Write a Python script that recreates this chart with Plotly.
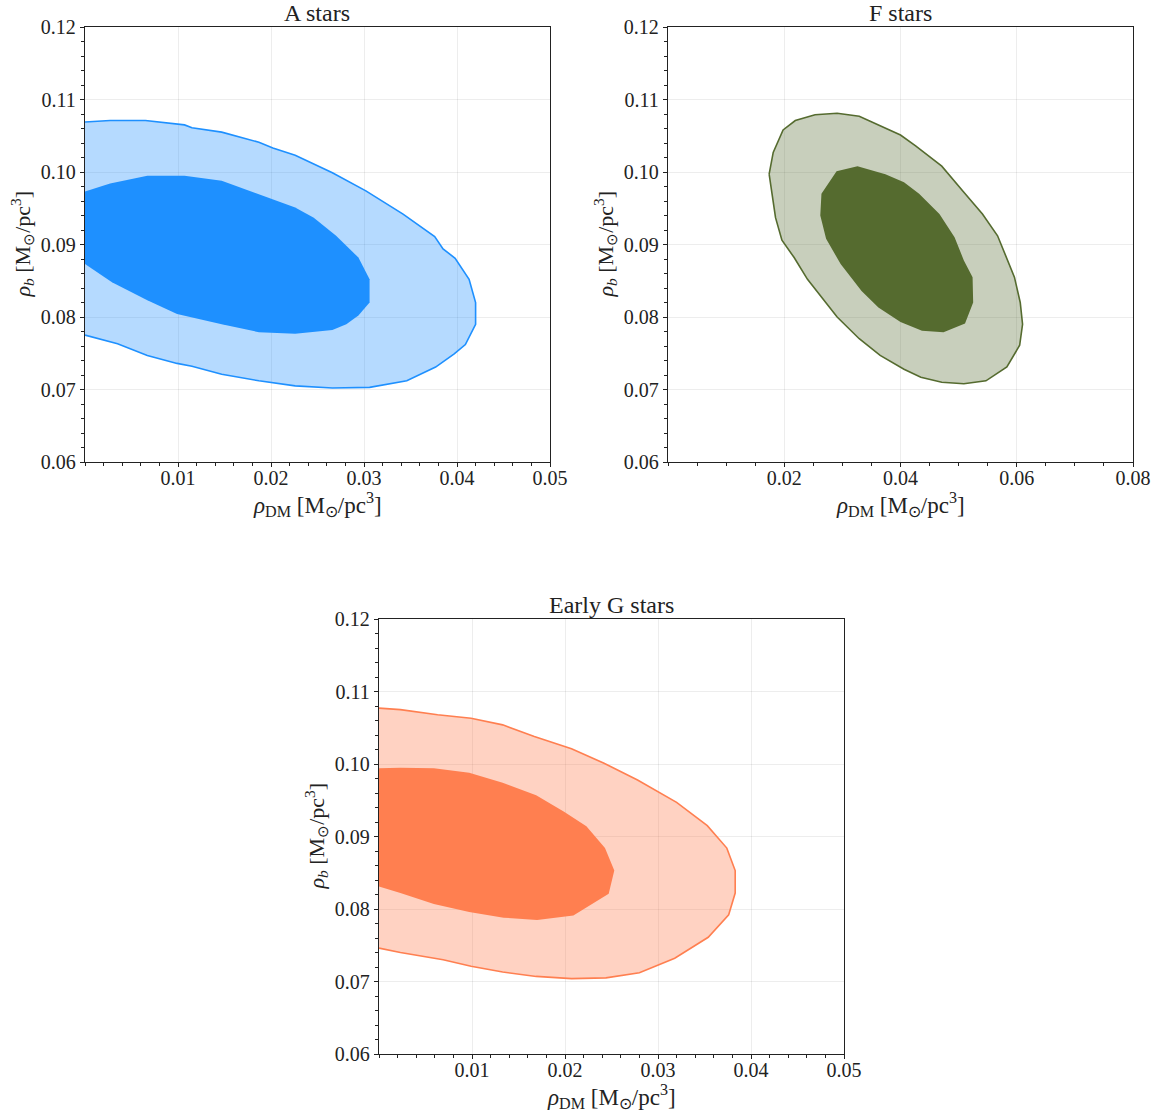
import plotly.graph_objects as go

# ---------------- data ----------------
titles = ["A stars", "F stars", "Early G stars"]

a_outer_x = [0.0, 0.0027, 0.0065, 0.0107, 0.0115, 0.0147, 0.0187, 0.0202, 0.0226, 0.0266, 0.0302, 0.0342,
             0.0376, 0.0385, 0.0398, 0.0413, 0.0420, 0.0420, 0.0409, 0.0397, 0.0377, 0.0346, 0.0306, 0.0266,
             0.0226, 0.0187, 0.0147, 0.0115, 0.0099, 0.0067, 0.0035, 0.0]
a_outer_y = [0.1069, 0.1071, 0.1071, 0.1065, 0.1061, 0.1055, 0.1041, 0.1033, 0.1023, 0.0999, 0.0974, 0.0942,
             0.0911, 0.0894, 0.0881, 0.0852, 0.0820, 0.0790, 0.0762, 0.0749, 0.0731, 0.0712, 0.0703, 0.0702,
             0.0705, 0.0712, 0.0721, 0.0732, 0.0736, 0.0747, 0.0763, 0.0775]
a_inner_x = [0.0, 0.0027, 0.0067, 0.0107, 0.0147, 0.0179, 0.0202, 0.0226, 0.0246, 0.0270, 0.0294, 0.0306,
             0.0306, 0.0294, 0.0281, 0.0266, 0.0226, 0.0187, 0.0147, 0.0099, 0.0067, 0.0029, 0.0]
a_inner_y = [0.0973, 0.0984, 0.0995, 0.0995, 0.0988, 0.0973, 0.0962, 0.0951, 0.0937, 0.0912, 0.0882, 0.0852,
             0.0820, 0.0802, 0.0790, 0.0782, 0.0777, 0.0779, 0.0790, 0.0804, 0.0823, 0.0848, 0.0873]

f_outer_x = [0.0174, 0.0181, 0.0198, 0.0219, 0.0253, 0.0291, 0.0329, 0.0362, 0.0400, 0.0426, 0.0471, 0.0509,
             0.0541, 0.0567, 0.0596, 0.0606, 0.0610, 0.0605, 0.0583, 0.0547, 0.0509, 0.0471, 0.0435, 0.0406,
             0.0365, 0.0329, 0.0291, 0.0240, 0.0217, 0.0196, 0.0185, 0.0174]
f_outer_y = [0.0997, 0.1027, 0.1058, 0.1071, 0.1079, 0.1081, 0.1077, 0.1065, 0.1051, 0.1036, 0.1008, 0.0972,
             0.0942, 0.0912, 0.0855, 0.0820, 0.0790, 0.0761, 0.0731, 0.0712, 0.0708, 0.0710, 0.0717, 0.0728,
             0.0747, 0.0770, 0.0800, 0.0852, 0.0882, 0.0906, 0.0937, 0.0997]
f_inner_x = [0.0290, 0.0326, 0.0374, 0.0406, 0.0432, 0.0467, 0.0493, 0.0509, 0.0524, 0.0525, 0.0511, 0.0474,
             0.0437, 0.0400, 0.0362, 0.0333, 0.0297, 0.0272, 0.0262, 0.0264, 0.0290]
f_inner_y = [0.1001, 0.1008, 0.0997, 0.0986, 0.0970, 0.0942, 0.0910, 0.0878, 0.0855, 0.0820, 0.0791, 0.0779,
             0.0781, 0.0793, 0.0813, 0.0836, 0.0873, 0.0908, 0.0940, 0.0970, 0.1001]

g_outer_x = [0.0, 0.0023, 0.0063, 0.0099, 0.0133, 0.0167, 0.0207, 0.0242, 0.0278, 0.0320, 0.0353, 0.0374,
             0.0383, 0.0383, 0.0376, 0.0354, 0.0318, 0.0280, 0.0244, 0.0207, 0.0169, 0.0133, 0.0099, 0.0069,
             0.0023, 0.0]
g_outer_y = [0.1077, 0.1075, 0.1068, 0.1063, 0.1054, 0.1038, 0.1021, 0.1001, 0.0978, 0.0947, 0.0915, 0.0884,
             0.0853, 0.0822, 0.0792, 0.0761, 0.0732, 0.0712, 0.0705, 0.0704, 0.0707, 0.0713, 0.0721, 0.0730,
             0.0740, 0.0746]
g_inner_x = [0.0, 0.0023, 0.0059, 0.0097, 0.0133, 0.0169, 0.0199, 0.0223, 0.0243, 0.0253, 0.0247, 0.0209,
             0.0170, 0.0134, 0.0097, 0.0059, 0.0023, 0.0]
g_inner_y = [0.0994, 0.0995, 0.0994, 0.0988, 0.0974, 0.0957, 0.0934, 0.0914, 0.0884, 0.0853, 0.0821, 0.0791,
             0.0785, 0.0788, 0.0796, 0.0807, 0.0822, 0.0831]

x_ranges = [[0.0, 0.05], [0.0, 0.08], [0.0, 0.05]]
x_tickvals = [[0.01, 0.02, 0.03, 0.04, 0.05], [0.02, 0.04, 0.06, 0.08], [0.01, 0.02, 0.03, 0.04, 0.05]]
x_minor = [0.002, 0.005, 0.002]
y_tickvals = [0.06, 0.07, 0.08, 0.09, 0.10, 0.11, 0.12]

dark_colors = ["#1E90FF", "#556B2F", "#FF7F50"]
light_colors = ["rgba(30,144,255,0.33)", "rgba(85,107,47,0.32)", "rgba(255,127,80,0.35)"]

# ---------------- layout geometry ----------------
W, H = 1164, 1115
panels_px = [  # left, right, top, bottom in pixels
    (85, 550, 27, 462),
    (668, 1133, 27, 462),
    (379, 844, 619, 1054),
]

FONT = "Liberation Serif, Times New Roman, serif"
INK = "#222222"

fig = go.Figure()

outers = [(a_outer_x, a_outer_y, False), (f_outer_x, f_outer_y, True), (g_outer_x, g_outer_y, False)]
inners = [(a_inner_x, a_inner_y), (f_inner_x, f_inner_y), (g_inner_x, g_inner_y)]

annotations = []
for i in range(3):
    xa = "x" if i == 0 else f"x{i+1}"
    ya = "y" if i == 0 else f"y{i+1}"
    ox, oy, closed = outers[i]
    ix, iy = inners[i]
    fig.add_trace(go.Scatter(x=ox, y=oy, fill="toself", fillcolor=light_colors[i],
                             mode="lines", line=dict(width=0, color=dark_colors[i]),
                             hoverinfo="skip", showlegend=False, xaxis=xa, yaxis=ya))
    fig.add_trace(go.Scatter(x=ix, y=iy, fill="toself", fillcolor=dark_colors[i],
                             mode="lines", line=dict(width=0, color=dark_colors[i]),
                             hoverinfo="skip", showlegend=False, xaxis=xa, yaxis=ya))
    lx = list(ox) + ([ox[0]] if closed else [])
    ly = list(oy) + ([oy[0]] if closed else [])
    fig.add_trace(go.Scatter(x=lx, y=ly, mode="lines", line=dict(width=1.6, color=dark_colors[i]),
                             hoverinfo="skip", showlegend=False, xaxis=xa, yaxis=ya))

    l, r, t, b = panels_px[i]
    xdom = [l / W, r / W]
    ydom = [1 - b / H, 1 - t / H]
    axis_common = dict(
        showline=True, linecolor=INK, linewidth=1.3, mirror=True,
        ticks="outside", ticklen=4, tickwidth=1.2, tickcolor=INK,
        showgrid=True, gridcolor="rgba(0,0,0,0.07)", gridwidth=1,
        zeroline=False, tickfont=dict(family=FONT, size=20, color=INK),
        automargin=False,
    )
    xkey = "xaxis" if i == 0 else f"xaxis{i+1}"
    ykey = "yaxis" if i == 0 else f"yaxis{i+1}"
    fig.update_layout(**{
        xkey: dict(domain=xdom, range=x_ranges[i], anchor=ya, tickvals=x_tickvals[i],
                   ticktext=[f"{v:.2f}" for v in x_tickvals[i]], ticklabelstandoff=-6,
                   minor=dict(ticks="outside", dtick=x_minor[i], tick0=0, ticklen=2.5,
                              tickwidth=1, tickcolor=INK, showgrid=False),
                   **axis_common),
        ykey: dict(domain=ydom, range=[0.06, 0.12], anchor=xa, tickvals=y_tickvals,
                   ticktext=[f"{v:.2f}" for v in y_tickvals],
                   minor=dict(ticks="outside", dtick=0.002, tick0=0.06, ticklen=2.5,
                              tickwidth=1, tickcolor=INK, showgrid=False),
                   **axis_common),
    })
    cx = (l + r) / 2 / W
    cy = 1 - (t + b) / 2 / H
    annotations.append(dict(text=titles[i], x=cx, y=1 - (t - 14) / H, xref="paper", yref="paper",
                            xanchor="center", yanchor="middle", showarrow=False,
                            font=dict(family=FONT, size=24, color=INK)))
    annotations.append(dict(text="<i>ρ</i><sub>DM</sub> [M<sub>⊙</sub>/pc<sup>3</sup>]",
                            x=cx, y=1 - (b + 42) / H, xref="paper", yref="paper",
                            xanchor="center", yanchor="middle", showarrow=False,
                            font=dict(family=FONT, size=23, color=INK)))
    annotations.append(dict(text="<i>ρ<sub>b</sub></i> [M<sub>⊙</sub>/pc<sup>3</sup>]",
                            x=(l - 63) / W, y=cy, xref="paper", yref="paper",
                            xanchor="center", yanchor="middle", showarrow=False, textangle=-90,
                            font=dict(family=FONT, size=22, color=INK)))

fig.update_layout(width=W, height=H, margin=dict(l=0, r=0, t=0, b=0, autoexpand=False),
                  paper_bgcolor="white", plot_bgcolor="white",
                  annotations=annotations, showlegend=False)

fig.write_html("out.html")
